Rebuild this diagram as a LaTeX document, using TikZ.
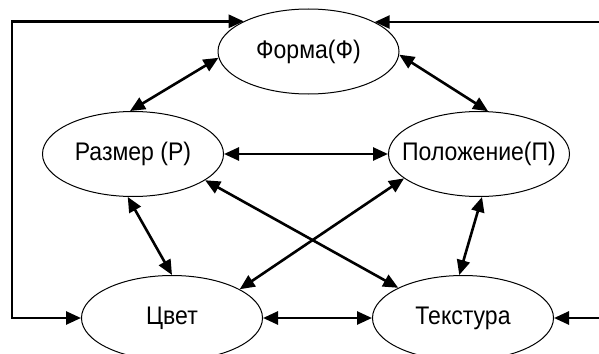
\documentclass[tikz,border=0pt]{standalone}
\usepackage{fontspec}
\setmainfont{Liberation Sans}
\usetikzlibrary{arrows.meta,shapes.geometric}
\newcommand{\ovaltext}[1]{\makebox[0pt]{\scalebox{0.96}[1.06]{#1}}}
\begin{document}
\begin{tikzpicture}[x=1pt,y=-1pt,
  oval/.style={ellipse,draw,line width=1pt,minimum width=181pt,minimum height=85pt,
               inner sep=0pt,font=\fontsize{24}{28}\selectfont},
  tip/.tip={Triangle[length=15pt,width=13pt]},
  link/.style={line width=2.6pt,tip-tip},
  feed/.style={line width=2.6pt,-tip}]
\useasboundingbox (0,0) rectangle (599,353);

% the five properties
\node[oval] (Forma)  at (308.5,51.5) {\ovaltext{Форма(Ф)}};
\node[oval] (Razmer) at (133,154)    {\ovaltext{Размер (Р)}};
\node[oval] (Polozh) at (479,154)    {\ovaltext{Положение(П)}};
\node[oval] (Tsvet)  at (172,318)    {\ovaltext{Цвет}};
\node[oval] (Tekst)  at (463,318)    {\ovaltext{Текстура}};

% mutual links
\draw[link] (Forma.184)  -- (Razmer.94);
\draw[link] (Forma.358)  -- (Polozh.78);
\draw[link] (Razmer.east) -- (Polozh.west);
\draw[link] (Razmer.263.4) -- (Tsvet.90);
\draw[link] (Polozh.274) -- (Tekst.95);
\draw[link] (Razmer.340) -- (Tekst.155);
\draw[link] (Polozh.198.9) -- (Tsvet.23.2);
\draw[link] (Tsvet.east) -- (Tekst.west);

% outer loop on the left
\coordinate (lx) at (12,0);
\draw[link] (Forma.155.6) -- (Forma.155.6 -| lx) -- (Tsvet.west -| lx) -- (Tsvet.west);

% inputs from the right border
\coordinate (rx) at (599,0);
\draw[feed] (Forma.24.4 -| rx) -- (Forma.24.4);
\draw[feed] (Tekst.east -| rx) -- (Tekst.east);
\end{tikzpicture}
\end{document}
